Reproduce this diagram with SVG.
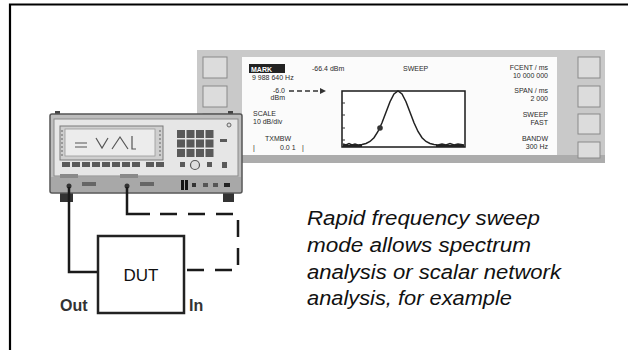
<svg xmlns="http://www.w3.org/2000/svg" width="628" height="350" viewBox="0 0 628 350">
<defs>
<style>
.scr{font-family:"Liberation Sans",Arial,sans-serif;font-size:7px;fill:#2a2a2a}
.cap{font-family:"Liberation Sans",Arial,sans-serif;font-size:20px;font-style:italic;fill:#111}
.lbl{font-family:"Liberation Sans",Arial,sans-serif;font-size:16px;font-weight:bold;fill:#333}
.key{fill:#dcdcdc;stroke:#8a8a8a;stroke-width:1}
.dk{fill:#5a5a5a}
.cable{fill:none;stroke:#1a1a1a;stroke-width:2.5}
</style>
<marker id="ah" viewBox="0 0 10 10" refX="5" refY="5" markerWidth="4" markerHeight="4" orient="auto"><path d="M0,0 L10,5 L0,10 z" fill="#333"/></marker>
</defs>
<rect width="628" height="350" fill="#ffffff"/>
<g id="frame"><path d="M10,350 V4.5 H628" fill="none" stroke="#000" stroke-width="2.2"/></g>

<g id="display">
<rect x="197" y="50" width="408" height="113" fill="#c9c9c9"/>
<rect x="197" y="155" width="408" height="8" fill="#acacac"/>
<rect x="242" y="57" width="315" height="98" fill="#fbfbfb"/>
<rect class="key" x="203" y="57" width="24" height="21"/>
<rect class="key" x="203" y="86" width="24" height="21"/>
<rect class="key" x="203" y="114" width="24" height="20"/>
<rect class="key" x="203" y="142" width="24" height="16"/>
<rect class="key" x="578" y="57" width="22" height="21"/>
<rect class="key" x="578" y="86" width="22" height="21"/>
<rect class="key" x="578" y="114" width="22" height="20"/>
<rect class="key" x="578" y="142" width="22" height="16"/>
<rect x="249" y="64" width="36" height="9" fill="#222"/>
<text class="scr" x="251" y="71.5" style="fill:#fff;font-weight:bold">MARK</text>
<text class="scr" x="312" y="71">-66.4 dBm</text>
<text class="scr" x="252" y="79.5">9 988 640 Hz</text>
<text class="scr" x="403" y="71">SWEEP</text>
<text class="scr" x="548" y="70" text-anchor="end">FCENT / ms</text>
<text class="scr" x="548" y="78" text-anchor="end">10 000 000</text>
<text class="scr" x="548" y="93" text-anchor="end">SPAN / ms</text>
<text class="scr" x="548" y="101" text-anchor="end">2 000</text>
<text class="scr" x="548" y="117" text-anchor="end">SWEEP</text>
<text class="scr" x="548" y="125" text-anchor="end">FAST</text>
<text class="scr" x="548" y="141" text-anchor="end">BANDW</text>
<text class="scr" x="548" y="149" text-anchor="end">300 Hz</text>
<text class="scr" x="285" y="93" text-anchor="end">-6.0</text>
<text class="scr" x="285" y="100" text-anchor="end">dBm</text>
<line x1="289" y1="91" x2="323" y2="91" stroke="#333" stroke-width="1.5" stroke-dasharray="5 3" marker-end="url(#ah)"/>
<text class="scr" x="253" y="116">SCALE</text>
<text class="scr" x="253" y="124">10 dB/div</text>
<text class="scr" x="265" y="141">TXMBW</text>
<text class="scr" x="253" y="150">|</text>
<text class="scr" x="280" y="150">0.0 1</text>
<text class="scr" x="302" y="150">|</text>
<rect x="342" y="91" width="123" height="56" fill="#fff" stroke="#1a1a1a" stroke-width="1.5"/>
<path d="M342,103 h3 M342,115 h3 M342,128 h3 M342,140 h3" stroke="#333" stroke-width="1"/>
<polyline fill="none" stroke="#222" stroke-width="1.5" points="343,144 346,145 349,143.5 352,145 355,144 358,145 362,144.4 366,143.5 370,141.5 374,137.7 378,131.5 382,122.8 386,112.2 390,101.7 394,93.9 398,91 402,93.9 406,101.7 410,112.2 414,122.8 418,131.5 422,137.7 426,141.5 430,143.5 434,144.4 438,145 442,144 446,145 450,143.5 454,145 458,144 464,145"/>
<path d="M343,146 H362 M436,146 H464" stroke="#222" stroke-width="2"/>
<circle cx="380" cy="128" r="2.8" fill="#333"/>
</g>

<g id="instrument">
<rect x="55" y="111" width="5" height="4" fill="#444"/>
<rect x="228" y="111" width="5" height="4" fill="#444"/>
<rect x="60" y="192" width="13" height="10" fill="#333"/>
<rect x="223" y="192" width="11" height="10" fill="#333"/>
<rect x="50" y="114" width="192" height="79" rx="2" fill="#bdbdbd" stroke="#555" stroke-width="1.5"/>
<rect x="54" y="119" width="184" height="57" fill="#e6e6e6" stroke="#8a8a8a" stroke-width="1"/>
<rect x="60" y="126" width="103" height="34" fill="#cfcfcf" stroke="#7a7a7a" stroke-width="1"/>
<rect x="65" y="129" width="90" height="27" fill="#ececec" stroke="#999" stroke-width="0.8"/>
<path d="M75,143 h12 M75,147 h12 M96,138 l6,10 l6,-10 M112,149 l8,-12 l8,12 M132,136 v13 h4" fill="none" stroke="#555" stroke-width="1.2"/>
<path d="M62,130 v26 M160,130 v26" stroke="#888" stroke-width="1.5" stroke-dasharray="2 2"/>
<g class="dk">
<rect x="62" y="162" width="8" height="5"/><rect x="72" y="162" width="8" height="5"/><rect x="82" y="162" width="8" height="5"/><rect x="92" y="162" width="8" height="5"/><rect x="102" y="162" width="8" height="5"/><rect x="112" y="162" width="8" height="5"/><rect x="122" y="162" width="8" height="5"/><rect x="132" y="162" width="8" height="5"/><rect x="146" y="162" width="8" height="5"/><rect x="156" y="162" width="8" height="5"/>
<rect x="177" y="130" width="8" height="8"/><rect x="186.5" y="130" width="8" height="8"/><rect x="196" y="130" width="8" height="8"/><rect x="205.5" y="130" width="8" height="8"/>
<rect x="177" y="139.5" width="8" height="8"/><rect x="186.5" y="139.5" width="8" height="8"/><rect x="196" y="139.5" width="8" height="8"/><rect x="205.5" y="139.5" width="8" height="8"/>
<rect x="177" y="149" width="8" height="8"/><rect x="186.5" y="149" width="8" height="8"/><rect x="196" y="149" width="8" height="8"/><rect x="205.5" y="149" width="8" height="8"/>
<rect x="220" y="139" width="7" height="3"/>
<rect x="180" y="162" width="5" height="5"/><rect x="207" y="162" width="5" height="5"/><rect x="222" y="162" width="5" height="6"/>
</g>
<circle cx="195" cy="165" r="4.5" fill="#ddd" stroke="#555" stroke-width="1.2"/>
<circle cx="229" cy="125" r="2" fill="#ddd" stroke="#666" stroke-width="1"/>
<rect x="51" y="177" width="190" height="15" fill="#a8a8a8"/>
<rect x="60" y="174" width="18" height="4" fill="#8a8a8a"/>
<rect x="120" y="174" width="18" height="4" fill="#8a8a8a"/>
<rect x="82" y="182" width="14" height="4" fill="#666"/>
<rect x="140" y="182" width="14" height="4" fill="#666"/>
<circle cx="69" cy="186" r="2.5" fill="#333"/>
<circle cx="127" cy="186" r="2.5" fill="#333"/>
<rect x="181" y="180" width="3" height="10" fill="#111"/>
<rect x="185" y="180" width="3" height="10" fill="#111"/>
<rect x="192" y="183" width="4" height="4" fill="#333"/>
<rect x="203" y="183" width="5" height="4" fill="#555"/>
<rect x="213" y="183" width="5" height="4" fill="#555"/>
<rect x="224" y="183" width="6" height="4" fill="#222"/>
</g>

<g id="connectors">
<path class="cable" d="M69,187 V272 H98"/>
<path class="cable" d="M127,187 V214 H150"/>
<path class="cable" d="M160,214 H238 V270 H184" stroke-dasharray="17 11"/>
</g>

<g id="dut">
<rect x="98" y="236" width="86" height="77" fill="#fff" stroke="#222" stroke-width="2.5"/>
<text x="141" y="281" text-anchor="middle" font-family="Liberation Sans, Arial, sans-serif" font-size="17" fill="#111">DUT</text>
</g>

<g id="labels">
<text class="lbl" x="60" y="311">Out</text>
<text class="lbl" x="189" y="311">In</text>
</g>

<g id="caption">
<text class="cap" x="307" y="225" textLength="233" lengthAdjust="spacingAndGlyphs">Rapid frequency sweep</text>
<text class="cap" x="307" y="252" textLength="224" lengthAdjust="spacingAndGlyphs">mode allows spectrum</text>
<text class="cap" x="307" y="279" textLength="254" lengthAdjust="spacingAndGlyphs">analysis or scalar network</text>
<text class="cap" x="307" y="305" textLength="205" lengthAdjust="spacingAndGlyphs">analysis, for example</text>
</g>
</svg>
